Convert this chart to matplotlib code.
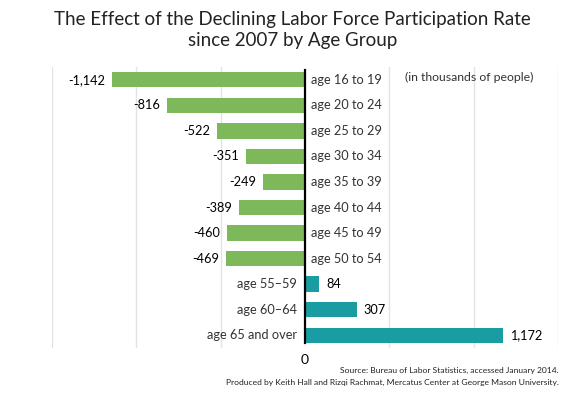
import matplotlib
matplotlib.use("Agg")
import matplotlib.pyplot as plt

plt.rcParams['font.family'] = ['Lato', 'DejaVu Sans']

categories = ["age 16 to 19", "age 20 to 24", "age 25 to 29", "age 30 to 34",
              "age 35 to 39", "age 40 to 44", "age 45 to 49", "age 50 to 54",
              "age 55\u201359", "age 60\u201364", "age 65 and over"]
values = [-1142, -816, -522, -351, -249, -389, -460, -469, 84, 307, 1172]
value_labels = ["-1,142", "-816", "-522", "-351", "-249", "-389", "-460", "-469",
                "84", "307", "1,172"]
grid_ticks = [-1500, -1000, -500, 500, 1000, 1500]

GREEN = '#7DB95A'
TEAL = '#1A9CA3'

W, H = 585, 398
fig = plt.figure(figsize=(W / 100, H / 100), dpi=100)
ax = fig.add_axes([52 / W, 1 - 348 / H, (558 - 52) / W, (348 - 67) / H])

ypos = list(range(len(categories)))
colors = [GREEN if v < 0 else TEAL for v in values]
ax.barh(ypos, values, height=0.6, color=colors, zorder=2)

ax.set_xlim(-1500, 1500)
ax.set_ylim(10.5, -0.5)
for g in grid_ticks:
    ax.axvline(g, color='#e3e3e3', lw=1, zorder=0)
ax.axvline(0, ymin=0.018, ymax=0.99, color='black', lw=1.6, zorder=3)

for s in ax.spines.values():
    s.set_visible(False)
ax.set_yticks([])
ax.set_xticks([0])
ax.set_xticklabels(["0"], fontsize=10)
ax.tick_params(axis='x', length=0, pad=4)

fs = 9.2
for y, v, cat, lab in zip(ypos, values, categories, value_labels):
    if v < 0:
        ax.annotate(cat, (0, y), xytext=(4, 0), textcoords='offset points',
                    ha='left', va='center', fontsize=fs, color='#333333')
        ax.annotate(lab, (v, y), xytext=(-5, 0), textcoords='offset points',
                    ha='right', va='center', fontsize=fs, color='black')
    else:
        ax.annotate(cat, (0, y), xytext=(-6, 0), textcoords='offset points',
                    ha='right', va='center', fontsize=fs, color='#333333')
        ax.annotate(lab, (v, y), xytext=(5, 0), textcoords='offset points',
                    ha='left', va='center', fontsize=fs, color='black')

fig.text(405 / W, 1 - 77 / H, "(in thousands of people)", ha='left', va='center',
         fontsize=8.8, color='#333333')

fig.text(0.5, 1 - 30 / H, "The Effect of the Declining Labor Force Participation Rate\nsince 2007 by Age Group",
         ha='center', va='center', fontsize=13.5, color='#222222', linespacing=1.25)

fig.text(559 / W, 1 - 370 / H, "Source: Bureau of Labor Statistics, accessed January 2014.",
         ha='right', va='center', fontsize=6.1, color='#222222')
fig.text(559 / W, 1 - 382 / H,
         "Produced by Keith Hall and Rizqi Rachmat, Mercatus Center at George Mason University.",
         ha='right', va='center', fontsize=6.1, color='#222222')

fig.savefig("out.png", dpi=100)
